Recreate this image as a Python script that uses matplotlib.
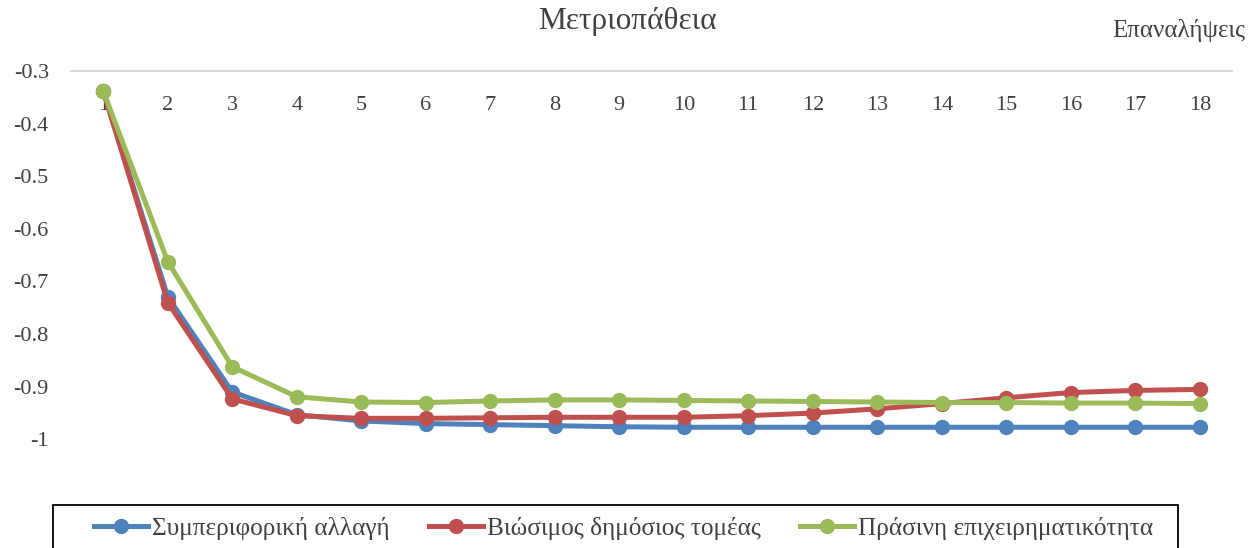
import matplotlib
matplotlib.use("Agg")
import matplotlib.pyplot as plt
from matplotlib.patches import Rectangle

plt.rcParams['font.family'] = ['Liberation Serif', 'DejaVu Serif']

iterations = list(range(1, 19))
behaviour = [-0.338, -0.729, -0.910, -0.953, -0.965, -0.970, -0.972, -0.974, -0.976,
             -0.977, -0.977, -0.977, -0.977, -0.977, -0.977, -0.977, -0.977, -0.977]
public = [-0.338, -0.740, -0.923, -0.955, -0.960, -0.960, -0.959, -0.958, -0.958,
          -0.958, -0.955, -0.950, -0.942, -0.932, -0.921, -0.911, -0.907, -0.905]
green = [-0.338, -0.662, -0.862, -0.919, -0.929, -0.930, -0.927, -0.925, -0.925,
         -0.926, -0.927, -0.928, -0.929, -0.930, -0.930, -0.931, -0.931, -0.932]
labels = ["Συμπεριφορική αλλαγή", "Βιώσιμος δημόσιος τομέας", "Πράσινη επιχειρηματικότητα"]
colors = ["#4F81BD", "#C0504D", "#9BBB59"]
yticks = [-1, -0.9, -0.8, -0.7, -0.6, -0.5, -0.4, -0.3]

W, H = 1255, 548
fig = plt.figure(figsize=(W/100, H/100), dpi=100)
ax = fig.add_axes([71/W, 1-492/H, (1232-71)/W, (492-71)/H])

for ys, lab, c in zip([behaviour, public, green], labels, colors):
    ax.plot(iterations, ys, color=c, lw=3.6, marker='o', markersize=10, label=lab)

ax.set_xlim(0.5, 18.5)
ax.set_ylim(-1.1, -0.3)
ax.set_yticks(yticks)
ax.set_yticklabels([f"{v:g}" for v in yticks])
ax.set_xticks(iterations)
ax.xaxis.tick_top()
ax.tick_params(axis='x', length=0, pad=-32, labelsize=16, labelcolor='#404040')
ax.tick_params(axis='y', length=0, pad=16, labelsize=16, labelcolor='#404040')
for s in ['left', 'right', 'bottom']:
    ax.spines[s].set_visible(False)
ax.spines['top'].set_color('#D9D9D9')
ax.spines['top'].set_linewidth(1.5)

fig.text(627/W, 1-21/H, "Μετριοπάθεια", ha='center', va='center', fontsize=22.5, color='#404040')
fig.text(1245/W, 1-30/H, "Επαναλήψεις", ha='right', va='center', fontsize=18, color='#404040')

# legend box (left padding wider than right, as in the original)
fig.patches.append(Rectangle((53/W, -0.05), (1178-53)/W, (H-505)/H + 0.05,
                             transform=fig.transFigure, fill=False,
                             edgecolor='black', lw=1.3))
fig.legend(loc='center left', bbox_to_anchor=(94/W, 1-528/H), ncol=3,
           frameon=False, fontsize=18.2, handlelength=2.15, columnspacing=1.55,
           borderpad=0, handletextpad=0.15, borderaxespad=0, labelcolor='#404040')

fig.savefig("out.png", dpi=100)
